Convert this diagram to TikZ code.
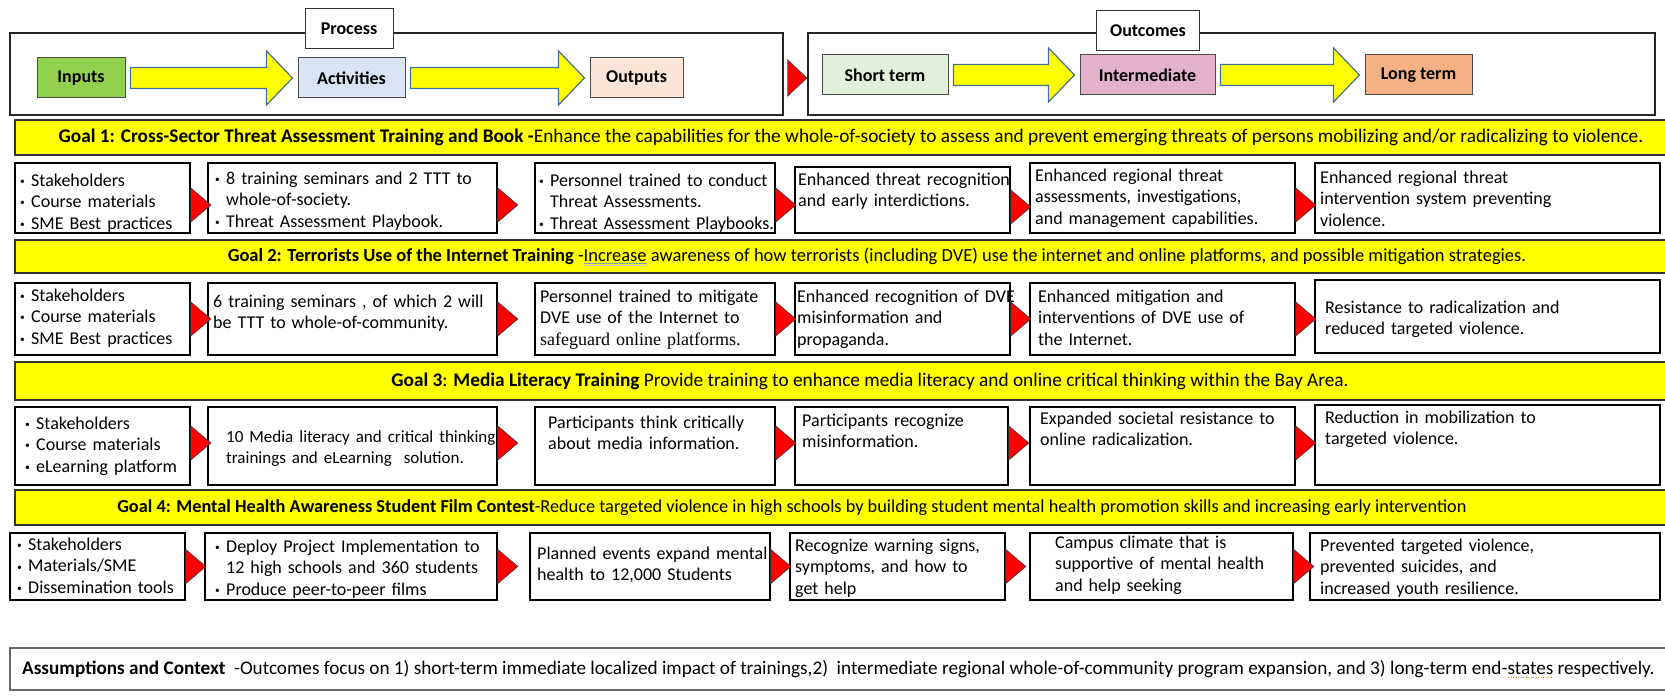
\documentclass[tikz,border=0pt]{standalone}
\usepackage{fontspec}
\setmainfont{Carlito}
\newfontfamily\tnrfont{Liberation Serif}
\usetikzlibrary{calc}
\definecolor{gyel}{HTML}{FFFF00}
\definecolor{inpgreen}{HTML}{92D050}
\definecolor{actblue}{HTML}{DAE3F3}
\definecolor{outpeach}{HTML}{FBE5D6}
\definecolor{stgreen}{HTML}{E2F0D9}
\definecolor{intpink}{HTML}{E4B1CB}
\definecolor{ltorange}{HTML}{F4B183}
\definecolor{arblue}{HTML}{41719C}
\definecolor{ulblue}{HTML}{7F9FBF}
\definecolor{spellor}{HTML}{D09A30}
\newcommand\fs[1]{\fontsize{#1}{21.3}\selectfont}
\tikzset{
  frame/.style={draw=black!85, line width=1.6pt},
  lbl/.style={draw=black!80, fill=white, line width=1pt, font=\fs{18}\bfseries, inner sep=0},
  hdr/.style={draw=black!70, line width=1pt, font=\fs{18}\bfseries, inner sep=0, minimum height=40},
  yarrow/.style={fill=gyel, draw=arblue, line width=1.2pt, line join=miter},
  goalbar/.style={draw=black!80, fill=gyel, line width=1.6pt, inner sep=0},
  rowbox/.style={draw=black, line width=1.6pt, fill=white, inner sep=0},
  txt/.style={inner sep=0, align=left, anchor=north west},
  redtri/.style={fill=red, draw=black!75, line width=0.7pt, line join=miter},
  asmbox/.style={draw=black!60, line width=1.2pt},
}
\newcommand\bitem[1]{\hangindent=11pt\hangafter=1\noindent\hbox to 11pt{\raisebox{2pt}{\fontsize{9.5}{9.5}\selectfont •}\hss}#1\par}
\newcommand\brk{\hfil\break}
\newcommand\gramul[1]{\sbox0{#1}\rlap{\color{ulblue}\rule[-2.5pt]{\wd0}{0.9pt}}\rlap{\color{ulblue!50}\rule[-4.5pt]{\wd0}{0.9pt}}\usebox0}
\newcommand\spellul[1]{\sbox0{#1}\rlap{\color{spellor}\hbox to \wd0{\leaders\hbox to 2.5pt{\hss\rule[-3.5pt]{1.2pt}{1.2pt}\hss}\hfill}}\usebox0}
% name, x1, y1, x2, y2, padx, pady, content
\newcommand\rb[8]{%
  \node[rowbox, minimum width={#4-#2}, minimum height={#5-#3}] (#1) at ({(#2+#4)/2},{(#3+#5)/2}) {};
  \pgfmathsetmacro\tw{#4-#2+60}%
  \node[txt, text width=\tw pt] (#1t) at ({#2+#6},{#3+#7}) {#8};}
\newcommand\rtri[2]{\draw[redtri] ($(#1.east)+(0,#2-17)$) -- ($(#1.east)+(20,#2)$) -- ($(#1.east)+(0,#2+17)$) -- cycle;}
\newcommand\harrow[2]{\draw[yarrow] let \p1=($(#1.east)+(5,0)$), \p2=($(#2.west)+(-5,0)$) in
  (\x1,\y1+10.5pt) -- (\x2-26pt,\y1+10.5pt) -- (\x2-26pt,\y1+27pt) -- (\x2,\y1) -- (\x2-26pt,\y1-27pt) -- (\x2-26pt,\y1-10.5pt) -- (\x1,\y1-10.5pt) -- cycle;}
\begin{document}
\begin{tikzpicture}[x=1pt, y=-1pt, font=\fs{18}]
\useasboundingbox[fill=white] (0,0) rectangle (1665,700);
% ---------- header ----------
\node[frame, minimum width=773, minimum height=82, inner sep=0] (procframe) at (396.5,74) {};
\node[frame, minimum width=847, minimum height=82, inner sep=0] (outframe) at (1231.5,74) {};
\node[lbl, minimum width=88, minimum height=40] (proclbl) at (349,29) {Process};
\node[lbl, minimum width=103, minimum height=40] (outlbl) at (1148,31) {Outcomes};
\node[hdr, fill=inpgreen, minimum width=88] (inputs) at (81,78) {Inputs};
\node[hdr, fill=actblue, minimum width=107] (activities) at (351.5,78) {Activities};
\node[hdr, fill=outpeach, minimum width=93] (outputs) at (636.5,78) {Outputs};
\node[hdr, fill=stgreen, minimum width=126] (shortterm) at (885,75) {Short term};
\node[hdr, fill=intpink, minimum width=135] (intermediate) at (1147.5,75) {Intermediate};
\node[hdr, fill=ltorange, minimum width=107] (longterm) at (1418.5,75) {Long term};
\harrow{inputs}{activities}
\harrow{activities}{outputs}
\harrow{shortterm}{intermediate}
\harrow{intermediate}{longterm}
\draw[redtri] ($(procframe.east)+(4,4-18)$) -- ($(procframe.east)+(23,4)$) -- ($(procframe.east)+(4,4+18)$) -- cycle;
% ---------- goal bars ----------
\node[goalbar, minimum width=1660, minimum height=35] (g1) at (845,137.5) {};
\node[inner sep=0, font=\fs{19.3}] (g1t) at (851,137.5) {\textbf{Goal 1: Cross-Sector Threat Assessment Training and Book -}Enhance the capabilities for the whole-of-society to assess and prevent emerging threats of persons mobilizing and/or radicalizing to violence.};
\node[goalbar, minimum width=1660, minimum height=33] (g2) at (845,256.5) {};
\node[inner sep=0, font=\fs{18.5}] (g2t) at (877,256.5) {\textbf{Goal 2: Terrorists Use of the Internet Training} -\gramul{Increase} awareness of how terrorists (including DVE) use the internet and online platforms, and possible mitigation strategies.};
\node[goalbar, minimum width=1660, minimum height=38] (g3) at (845,381) {};
\node[inner sep=0, font=\fs{19.3}] (g3t) at (870,381) {\textbf{Goal 3}: \textbf{Media Literacy Training} Provide training to enhance media literacy and online critical thinking within the Bay Area.};
\node[goalbar, minimum width=1660, minimum height=35] (g4) at (845,507.5) {};
\node[inner sep=0, font=\fs{18.3}] (g4t) at (792,507.5) {\textbf{Goal 4: Mental Health Awareness Student Film Contest}-Reduce targeted violence in high schools by building student mental health promotion skills and increasing early intervention};
% ---------- row 1 ----------
\rb{a1}{15}{163}{190}{233}{5}{11}{\bitem{Stakeholders}\bitem{Course materials}\bitem{SME Best practices}}
\rb{a2}{208}{163}{497}{233}{7}{9}{\bitem{8 training seminars and 2 TTT to\brk whole-of-society.}\bitem{Threat Assessment Playbook.}}
\rb{a3}{535}{163}{775}{233}{4}{11}{\bitem{Personnel trained to conduct\brk Threat Assessments.}\bitem{Threat Assessment Playbooks.}}
\rb{a4}{795}{167}{1010}{233}{3}{6}{Enhanced threat recognition\\and early interdictions.}
\rb{a5}{1030}{163}{1295}{233}{5}{6}{Enhanced regional threat\\assessments, investigations,\\and management capabilities.}
\rb{a6}{1315}{163}{1660}{233}{5}{8}{Enhanced regional threat\\intervention system preventing\\violence.}
% ---------- row 2 ----------
\rb{b1}{15}{283}{190}{355}{5}{6}{\bitem{Stakeholders}\bitem{Course materials}\bitem{SME Best practices}}
\rb{b2}{208}{283}{497}{355}{5}{12}{6 training seminars , of which 2 will\\be TTT to whole-of-community.}
\rb{b3}{535}{283}{775}{355}{5}{7}{Personnel trained to mitigate\\DVE use of the Internet to\\{\tnrfont safeguard online platforms.}}
\rb{b4}{795}{283}{1010}{355}{2}{7}{Enhanced recognition of DVE\\misinformation and\\propaganda.}
\rb{b5}{1030}{283}{1295}{355}{8}{7}{Enhanced mitigation and\\interventions of DVE use of\\the Internet.}
\rb{b6}{1315}{280}{1660}{353}{10}{21}{Resistance to radicalization and\\reduced targeted violence.}
% ---------- row 3 ----------
\rb{c1}{15}{407}{190}{485}{10}{10}{\bitem{Stakeholders}\bitem{Course materials}\bitem{eLearning platform}}
\rb{c2}{208}{407}{497}{485}{18}{23}{\fs{17}10 Media literacy and critical thinking\\trainings and eLearning\ \ solution.}
\rb{c3}{535}{407}{775}{485}{13}{9}{Participants think critically\\about media information.}
\rb{c4}{795}{407}{1008}{485}{7}{7}{Participants recognize\\misinformation.}
\rb{c5}{1030}{407}{1295}{485}{10}{5}{Expanded societal resistance to\\online radicalization.}
\rb{c6}{1315}{405}{1660}{485}{10}{6}{Reduction in mobilization to\\targeted violence.}
% ---------- row 4 ----------
\rb{d1}{10}{533}{185}{600}{7}{5}{\bitem{Stakeholders}\bitem{Materials/SME}\bitem{Dissemination tools}}
\rb{d2}{205}{533}{497}{600}{10}{7}{\bitem{Deploy Project Implementation to\brk 12 high schools and 360 students}\bitem{Produce peer-to-peer films}}
\rb{d3}{530}{533}{770}{600}{7}{14}{Planned events expand mental\\health to 12,000 Students}
\rb{d4}{790}{533}{1005}{600}{5}{6}{Recognize warning signs,\\symptoms, and how to\\get help}
\rb{d5}{1030}{533}{1293}{600}{25}{3}{Campus climate that is\\supportive of mental health\\and help seeking}
\rb{d6}{1310}{533}{1660}{600}{10}{6}{Prevented targeted violence,\\prevented suicides, and\\increased youth resilience.}
% ---------- red triangles ----------
\foreach \r/\dy in {a/7, b/0, c/-3, d/0}{
  \foreach \i in {1,...,5}{\rtri{\r\i}{\dy}}
}
% ---------- assumptions ----------
\node[asmbox, minimum width=1670, minimum height=42, inner sep=0] (asm) at (845,669) {};
\node[inner sep=0, anchor=west, font=\fs{19.2}] (asmt) at (22,669) {\textbf{Assumptions and Context}\ \ -Outcomes focus on 1) short-term immediate localized impact of trainings,2)\ \ intermediate regional whole-of-community program expansion, and 3) long-term end-\spellul{states} respectively.};
\end{tikzpicture}
\end{document}
